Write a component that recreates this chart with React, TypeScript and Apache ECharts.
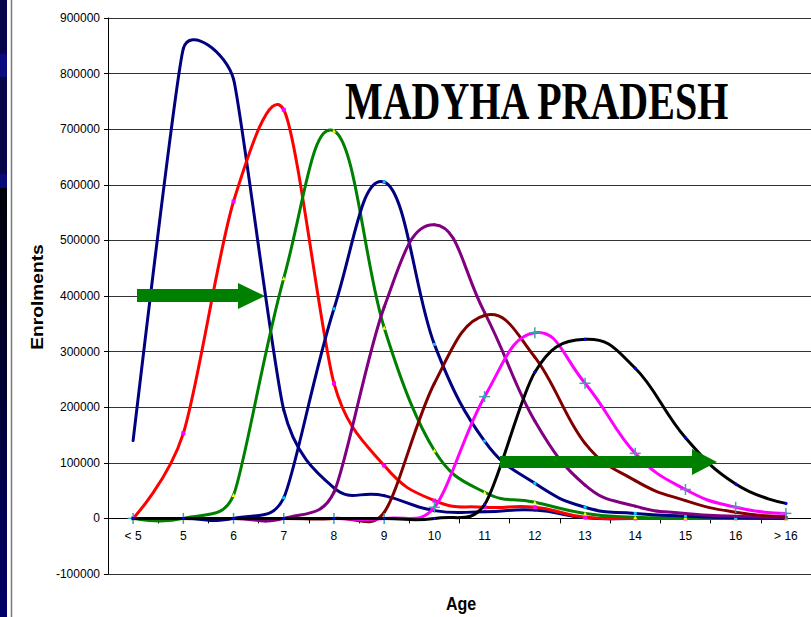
import React, { useEffect, useRef } from "react";
import * as echarts from "echarts";

const categories = ["< 5", "5", "6", "7", "8", "9", "10", "11", "12", "13", "14", "15", "16", "> 16"];

const cohortA = [140000, 845000, 790000, 195000, 55000, 41000, 14000, 12000, 15000, 1000, 0, 0, 0, 0];
const cohortB = [0, 153000, 570000, 735000, 243000, 95000, 32000, 20000, 20000, 2000, 0, 0, 0, 0];
const cohortC = [0, 0, 42000, 432000, 697000, 343000, 122000, 47000, 29000, 9000, 2000, 1000, 0, 0];
const cohortD = [0, 0, 0, 37000, 377000, 605000, 313000, 139000, 63000, 20000, 9000, 4000, 1000, 0];
const cohortE = [0, 0, 0, 0, 47000, 380000, 528000, 370000, 175000, 60000, 22000, 9000, 4000, 2000];
const cohortF = [0, 0, 0, 0, 0, 11000, 243000, 365000, 290000, 135000, 68000, 32000, 11000, 3000];
const cohortG = [0, 0, 0, 0, 0, 0, 20000, 219000, 334000, 243000, 117000, 52000, 20000, 9000];
const cohortH = [0, 0, 0, 0, 0, 0, 0, 25000, 263000, 322000, 270000, 145000, 62000, 27000];

const yMin = -100000;
const yMax = 900000;
const yStep = 100000;

const FONT = "'Liberation Sans', Arial, sans-serif";
const SMOOTH = 0.5;

type Mark = { kind: "none" | "rect" | "triangle" | "circle" | "cross"; size: number; color: string };
type Def = { name: string; data: number[]; color: string; mark: Mark };

const defs: Def[] = [
  { name: "A", data: cohortA, color: "#000080", mark: { kind: "none", size: 0, color: "" } },
  { name: "B", data: cohortB, color: "#ff0000", mark: { kind: "rect", size: 4, color: "#ff00ff" } },
  { name: "C", data: cohortC, color: "#008000", mark: { kind: "triangle", size: 4, color: "#ffff00" } },
  { name: "D", data: cohortD, color: "#000080", mark: { kind: "rect", size: 3, color: "#00ccff" } },
  { name: "E", data: cohortE, color: "#800080", mark: { kind: "none", size: 0, color: "" } },
  { name: "F", data: cohortF, color: "#800000", mark: { kind: "none", size: 0, color: "" } },
  { name: "G", data: cohortG, color: "#ff00ff", mark: { kind: "cross", size: 11, color: "#3fa3ad" } },
  { name: "H", data: cohortH, color: "#000000", mark: { kind: "circle", size: 3, color: "#0000ff" } },
];

function controlPoints(P: number[][]) {
  const n = P.length;
  const cpIn: number[][] = [];
  const cpOut: number[][] = [];
  for (let i = 0; i < n; i++) {
    if (i === 0 || i === n - 1) {
      cpIn[i] = P[i];
      cpOut[i] = P[i];
      continue;
    }
    const prev = P[i - 1];
    const cur = P[i];
    const next = P[i + 1];
    const vx = next[0] - prev[0];
    const vy = next[1] - prev[1];
    const l0 = Math.hypot(cur[0] - prev[0], cur[1] - prev[1]);
    const l1 = Math.hypot(next[0] - cur[0], next[1] - cur[1]);
    const f = l0 + l1 === 0 ? 0 : (SMOOTH * Math.min(l0, l1)) / (l0 + l1);
    cpIn[i] = [cur[0] - vx * f, cur[1] - vy * f];
    cpOut[i] = [cur[0] + vx * f, cur[1] + vy * f];
  }
  return { cpIn, cpOut };
}

function markerEl(m: Mark, x: number, y: number): any | null {
  const s = m.size;
  if (m.kind === "rect") {
    return { type: "rect", shape: { x: x - s / 2, y: y - s / 2, width: s, height: s }, style: { fill: m.color } };
  }
  if (m.kind === "circle") {
    return { type: "circle", shape: { cx: x, cy: y, r: s / 2 }, style: { fill: m.color } };
  }
  if (m.kind === "triangle") {
    return {
      type: "polygon",
      shape: { points: [[x, y - s / 2], [x + s / 2, y + s / 2], [x - s / 2, y + s / 2]] },
      style: { fill: m.color },
    };
  }
  if (m.kind === "cross") {
    return {
      type: "group",
      children: [
        { type: "line", shape: { x1: x - s / 2, y1: y, x2: x + s / 2, y2: y }, style: { stroke: m.color, lineWidth: 1.5 } },
        { type: "line", shape: { x1: x, y1: y - s / 2, x2: x, y2: y + s / 2 }, style: { stroke: m.color, lineWidth: 1.5 } },
      ],
    };
  }
  return null;
}

function makeSeries(def: Def) {
  return {
    type: "custom",
    name: def.name,
    data: def.data.map((v, i) => [i, v]),
    encode: { x: 0, y: 1 },
    silent: true,
    clip: false,
    renderItem: (params: any, api: any) => {
      const i = params.dataIndex;
      const P = def.data.map((v, j) => api.coord([j, v]));
      const { cpIn, cpOut } = controlPoints(P);
      const children: any[] = [];
      if (i < P.length - 1) {
        children.push({
          type: "bezierCurve",
          shape: {
            x1: P[i][0],
            y1: P[i][1],
            x2: P[i + 1][0],
            y2: P[i + 1][1],
            cpx1: cpOut[i][0],
            cpy1: cpOut[i][1],
            cpx2: cpIn[i + 1][0],
            cpy2: cpIn[i + 1][1],
          },
          style: { stroke: def.color, lineWidth: 3, fill: "none", lineCap: "round" },
        });
      }
      const mk = markerEl(def.mark, P[i][0], P[i][1]);
      if (mk) children.push(mk);
      return { type: "group", children };
    },
  };
}

export default function App() {
  const ref = useRef<HTMLDivElement>(null);

  useEffect(() => {
    document.body.style.margin = "0";
    const chart = echarts.init(ref.current!, null, { renderer: "svg" });
    const plotH = 617 - 18 - 43;
    const zeroOffset = -(plotH * (0 - yMin)) / (yMax - yMin);

    chart.setOption({
      animation: false,
      grid: { left: 108, top: 18, right: 0, bottom: 43, containLabel: false },
      xAxis: {
        type: "category",
        data: categories,
        boundaryGap: true,
        offset: zeroOffset,
        axisLine: { onZero: false, lineStyle: { color: "#000", width: 1 } },
        axisTick: { show: true, length: 5, lineStyle: { color: "#000" } },
        axisLabel: { color: "#000", fontFamily: FONT, fontSize: 12, margin: 12 },
        splitLine: { show: false },
      },
      yAxis: {
        type: "value",
        min: yMin,
        max: yMax,
        interval: yStep,
        axisLine: { show: true, lineStyle: { color: "#000", width: 1 } },
        axisTick: { show: true, length: 4, lineStyle: { color: "#000" } },
        axisLabel: {
          color: "#000",
          fontFamily: FONT,
          fontSize: 12,
          margin: 8,
          formatter: (v: number) => String(v),
        },
        splitLine: { show: true, lineStyle: { color: "#333", width: 1 } },
      },
      series: defs.map(makeSeries),
      graphic: [
        { type: "rect", shape: { x: 0, y: 0, width: 7, height: 54 }, style: { fill: "#06064a" }, silent: true },
        { type: "rect", shape: { x: 0, y: 54, width: 7, height: 23 }, style: { fill: "#0b0b80" }, silent: true },
        { type: "rect", shape: { x: 0, y: 77, width: 7, height: 97 }, style: { fill: "#060648" }, silent: true },
        { type: "rect", shape: { x: 0, y: 174, width: 7, height: 14 }, style: { fill: "#0a0a78" }, silent: true },
        {
          type: "rect",
          shape: { x: 0, y: 188, width: 7, height: 429 },
          style: {
            fill: new echarts.graphic.LinearGradient(0, 0, 0, 1, [
              { offset: 0, color: "#000008" },
              { offset: 1, color: "#00006a" },
            ]),
          },
          silent: true,
        },
        { type: "line", shape: { x1: 11.5, y1: 0, x2: 11.5, y2: 617 }, style: { stroke: "#777", lineWidth: 1.5 }, silent: true },
        {
          type: "text",
          x: 345,
          y: 101,
          scaleY: 1.32,
          style: {
            text: "MADYHA PRADESH",
            fontFamily: "'Liberation Serif', 'Times New Roman', serif",
            fontWeight: "bold",
            fontSize: 40,
            fill: "#000",
            align: "left",
            verticalAlign: "middle",
          },
          z: 100,
        },
        {
          type: "text",
          x: 38,
          y: 297,
          rotation: Math.PI / 2,
          scaleX: 1.2,
          style: {
            text: "Enrolments",
            fontFamily: FONT,
            fontWeight: "bold",
            fontSize: 16,
            fill: "#000",
            align: "center",
            verticalAlign: "middle",
          },
        },
        {
          type: "text",
          x: 461,
          y: 603,
          scaleY: 1.2,
          style: {
            text: "Age",
            fontFamily: FONT,
            fontWeight: "bold",
            fontSize: 16,
            fill: "#000",
            align: "center",
            verticalAlign: "middle",
          },
        },
        {
          type: "polygon",
          shape: { points: [[137, 289], [238, 289], [238, 283], [265, 296], [238, 309], [238, 302], [137, 302]] },
          style: { fill: "#008000" },
          z: 100,
        },
        {
          type: "polygon",
          shape: { points: [[500, 456], [692, 456], [692, 449], [717, 462], [692, 475], [692, 468], [500, 468]] },
          style: { fill: "#008000" },
          z: 100,
        },
      ],
    });

    return () => chart.dispose();
  }, []);

  return <div ref={ref} style={{ width: 811, height: 617 }} />;
}
